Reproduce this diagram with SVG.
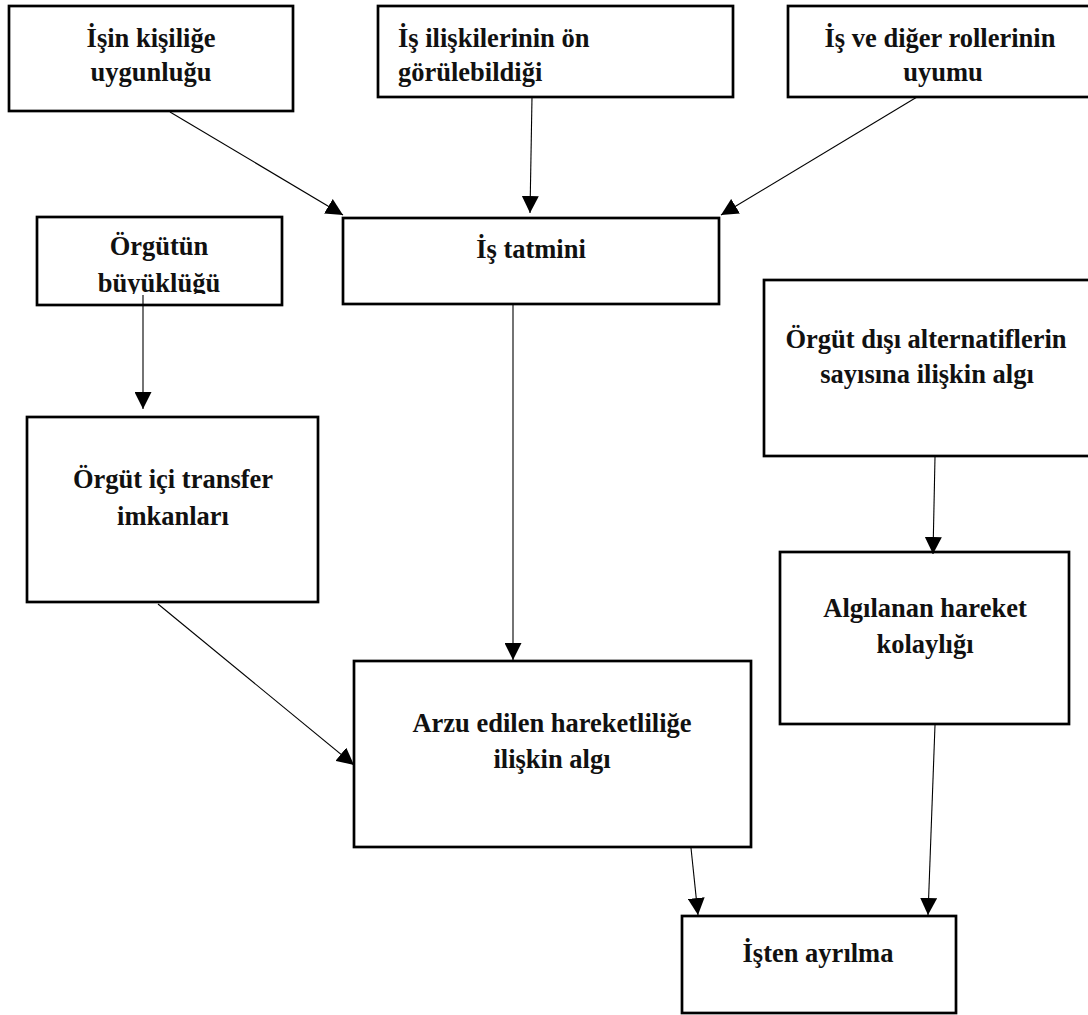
<svg xmlns="http://www.w3.org/2000/svg" width="1088" height="1015" viewBox="0 0 1088 1015">
<style>
.box{fill:#fff;stroke:#000;stroke-width:2.7}
.t{font-family:"Liberation Serif","Times New Roman",serif;font-weight:bold;font-size:26.5px;fill:#111}
.c{text-anchor:middle}
.conn line{stroke:#000;stroke-width:1.1;fill:none;marker-end:url(#ah)}
</style>
<defs>
<marker id="ah" markerUnits="userSpaceOnUse" markerWidth="17" markerHeight="17" refX="16" refY="8" orient="auto" viewBox="0 0 16 16">
<path d="M0,0 L16,8 L0,16 z" fill="#000"/>
</marker>
<clipPath id="clip4"><rect x="30" y="210" width="260" height="84"/></clipPath>
</defs>
<rect width="1088" height="1015" fill="#fff"/>
<g id="n1"><rect class="box" x="9" y="6" width="284" height="105"/>
<text class="t c" x="151" y="47">İşin kişiliğe</text><text class="t c" x="151" y="81">uygunluğu</text></g>
<g id="n2"><rect class="box" x="378" y="6" width="355" height="91"/>
<text class="t" x="398" y="47">İş ilişkilerinin ön</text><text class="t" x="398" y="81">görülebildiği</text></g>
<g id="n3"><rect class="box" x="788" y="6" width="310" height="91"/>
<text class="t c" x="940" y="47">İş ve diğer rollerinin</text><text class="t c" x="943" y="81">uyumu</text></g>
<g id="n4"><rect class="box" x="37" y="217" width="245" height="88"/>
<g clip-path="url(#clip4)"><text class="t c" x="159" y="255">Örgütün</text><text class="t c" x="159" y="292">büyüklüğü</text></g></g>
<g id="n5"><rect class="box" x="343" y="218" width="376" height="86"/>
<text class="t c" x="531" y="258">İş tatmini</text></g>
<g id="n6"><rect class="box" x="764" y="280" width="334" height="176"/>
<text class="t c" x="926" y="348">Örgüt dışı alternatiflerin</text><text class="t c" x="927" y="383">sayısına ilişkin algı</text></g>
<g id="n7"><rect class="box" x="27" y="417" width="291" height="185"/>
<text class="t c" x="173" y="488">Örgüt içi transfer</text><text class="t c" x="173" y="525">imkanları</text></g>
<g id="n8"><rect class="box" x="780" y="552" width="289" height="172"/>
<text class="t c" x="925" y="617">Algılanan hareket</text><text class="t c" x="925" y="653">kolaylığı</text></g>
<g id="n9"><rect class="box" x="354" y="661" width="397" height="186"/>
<text class="t c" x="552" y="732">Arzu edilen hareketliliğe</text><text class="t c" x="552" y="768">ilişkin algı</text></g>
<g id="n10"><rect class="box" x="682" y="916" width="274" height="97"/>
<text class="t c" x="818" y="962">İşten ayrılma</text></g>
<g class="conn" id="connectors">
<line x1="170" y1="112" x2="343" y2="215"/>
<line x1="532" y1="97" x2="530" y2="213"/>
<line x1="917" y1="97" x2="721" y2="215"/>
<line x1="143" y1="295" x2="143" y2="409"/>
<line x1="513" y1="304" x2="513" y2="660"/>
<line x1="158" y1="604" x2="354" y2="765"/>
<line x1="935" y1="457" x2="933" y2="554"/>
<line x1="691" y1="848" x2="698" y2="915"/>
<line x1="935" y1="725" x2="928" y2="915"/>
</g>
</svg>
